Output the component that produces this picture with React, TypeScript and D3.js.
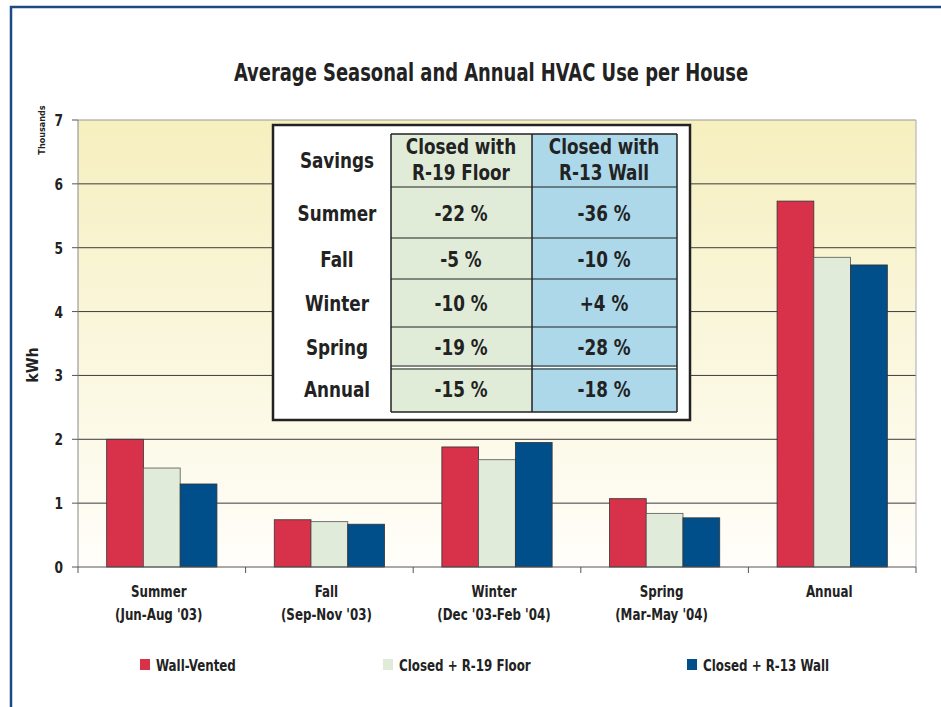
import React from "react";
import * as d3 from "d3";

const categories = ["Summer", "Fall", "Winter", "Spring", "Annual"];
const categorySub = ["(Jun-Aug '03)", "(Sep-Nov '03)", "(Dec '03-Feb '04)", "(Mar-May '04)", ""];
const seriesNames = ["Wall-Vented", "Closed + R-19 Floor", "Closed + R-13 Wall"];
const wallVented = [2.0, 0.74, 1.88, 1.07, 5.73];
const closedR19 = [1.55, 0.71, 1.68, 0.84, 4.85];
const closedR13 = [1.3, 0.67, 1.95, 0.77, 4.73];
const yTicks = [0, 1, 2, 3, 4, 5, 6, 7];

const tableRows = ["Summer", "Fall", "Winter", "Spring", "Annual"];
const savingsR19 = ["-22 %", "-5 %", "-10 %", "-19 %", "-15 %"];
const savingsR13 = ["-36 %", "-10 %", "+4 %", "-28 %", "-18 %"];

const colors = ["#d7324a", "#e0ecd9", "#004f8b"];
const FONT = "'DejaVu Sans Condensed', 'Liberation Sans Narrow', Arial, sans-serif";

const W = 941;
const H = 707;
const plot = { left: 78, right: 916, top: 120, bottom: 567 };

// condensed text: draw at origin, squeeze horizontally
const T = ({ x, y, sx = 0.85, size, anchor = "middle", children }: any) => (
  <text
    transform={`translate(${x},${y}) scale(${sx},1)`}
    textAnchor={anchor}
    fontSize={size}
    fontWeight="bold"
    fill="#222"
  >
    {children}
  </text>
);

export default function App() {
  const series = [wallVented, closedR19, closedR13];

  const x = d3.scaleBand().domain(categories).range([plot.left, plot.right]);
  const inner = d3
    .scaleBand<number>()
    .domain([0, 1, 2])
    .range([0, x.bandwidth()])
    .paddingOuter(0.78)
    .paddingInner(0);
  const y = d3.scaleLinear().domain([0, 7]).range([plot.bottom, plot.top]);

  // table geometry
  const tb = { left: 273, top: 125, right: 690, bottom: 420 };
  const colX = [391, 532, 677];
  const rowY = [134, 187, 238, 279, 327, 366, 412];

  return (
    <svg
      width={W}
      height={H}
      style={{ position: "absolute", left: 0, top: 0, fontFamily: FONT }}
    >
      <defs>
        <linearGradient id="bg" x1="0" y1="0" x2="0" y2="1">
          <stop offset="0%" stopColor="#f6efbf" />
          <stop offset="100%" stopColor="#fffefa" />
        </linearGradient>
      </defs>
      <rect x={0} y={0} width={W} height={H} fill="#fff" />
      {/* outer frame */}
      <path d={`M11,${H} V7 H${W}`} fill="none" stroke="#1d4a87" strokeWidth={2.5} />

      <T x={491} y={81} size={24} sx={0.83}>
        Average Seasonal and Annual HVAC Use per House
      </T>

      {/* plot background */}
      <rect
        x={plot.left}
        y={plot.top}
        width={plot.right - plot.left}
        height={plot.bottom - plot.top}
        fill="url(#bg)"
      />
      {yTicks.slice(1).map((t) => (
        <line
          key={t}
          x1={plot.left}
          x2={plot.right}
          y1={y(t)}
          y2={y(t)}
          stroke={t === 7 ? "#999" : "#3a3a3a"}
          strokeWidth={1}
        />
      ))}
      <line x1={plot.right} x2={plot.right} y1={plot.top} y2={plot.bottom} stroke="#aaa" />
      <line x1={plot.left} x2={plot.left} y1={plot.top} y2={plot.bottom} stroke="#888" />
      {yTicks.map((t) => (
        <g key={t}>
          <line x1={plot.left - 6} x2={plot.left} y1={y(t)} y2={y(t)} stroke="#555" />
          <T x={63} y={y(t) + 6} size={16} sx={0.85} anchor="end">
            {t}
          </T>
        </g>
      ))}
      <text
        transform="translate(38,365) rotate(-90)"
        textAnchor="middle"
        fontSize={16}
        fontWeight="bold"
        fill="#222"
      >
        kWh
      </text>
      <text
        transform="translate(45,130) rotate(-90)"
        textAnchor="middle"
        fontSize={9}
        fontWeight="bold"
        fill="#222"
      >
        Thousands
      </text>

      {/* bars */}
      {categories.map((c, i) =>
        series.map((s, j) => (
          <rect
            key={c + j}
            x={(x(c) as number) + (inner(j) as number)}
            y={y(s[i])}
            width={inner.bandwidth()}
            height={y(0) - y(s[i])}
            fill={colors[j]}
            stroke={j === 1 ? "#555" : "#333"}
            strokeWidth={0.8}
          />
        ))
      )}

      {/* x axis */}
      <line x1={plot.left} x2={plot.right} y1={plot.bottom} y2={plot.bottom} stroke="#555" />
      {[...categories.map((c) => x(c) as number), plot.right].map((v, i) => (
        <line key={i} x1={v} x2={v} y1={plot.bottom} y2={plot.bottom + 6} stroke="#555" />
      ))}
      {categories.map((c, i) => {
        const cx = (x(c) as number) + x.bandwidth() / 2 - 3;
        return (
          <g key={c}>
            <T x={cx} y={597} size={15} sx={0.88}>
              {c}
            </T>
            <T x={cx} y={620} size={15} sx={0.88}>
              {categorySub[i]}
            </T>
          </g>
        );
      })}

      {/* legend */}
      {seriesNames.map((n, j) => {
        const lx = [140, 383, 687][j];
        return (
          <g key={n}>
            <rect x={lx} y={659} width={10} height={11} fill={colors[j]} />
            <T x={lx + 16} y={671} size={15} sx={0.88} anchor="start">
              {n}
            </T>
          </g>
        );
      })}

      {/* savings table */}
      <rect
        x={tb.left}
        y={tb.top}
        width={tb.right - tb.left}
        height={tb.bottom - tb.top}
        fill="#fff"
        stroke="#222"
        strokeWidth={2.5}
      />
      <rect
        x={colX[0]}
        y={rowY[0]}
        width={colX[1] - colX[0]}
        height={rowY[6] - rowY[0]}
        fill="#e0ecd8"
      />
      <rect
        x={colX[1]}
        y={rowY[0]}
        width={colX[2] - colX[1]}
        height={rowY[6] - rowY[0]}
        fill="#acd8ea"
      />
      {rowY.map((ry, i) => (
        <line
          key={i}
          x1={colX[0]}
          x2={colX[2]}
          y1={ry}
          y2={ry}
          stroke="#222"
          strokeWidth={i === 0 || i === 6 ? 1.5 : 1}
        />
      ))}
      <line x1={colX[0]} x2={colX[2]} y1={rowY[5] + 1.5} y2={rowY[5] + 1.5} stroke="#fff" strokeWidth={1.2} />
      <line x1={colX[0]} x2={colX[2]} y1={rowY[5] + 3} y2={rowY[5] + 3} stroke="#222" />
      {colX.map((cx, i) => (
        <line key={i} x1={cx} x2={cx} y1={rowY[0]} y2={rowY[6]} stroke="#222" strokeWidth={1.5} />
      ))}
      <T x={337} y={168} size={22}>
        Savings
      </T>
      <T x={461} y={154} size={22}>
        Closed with
      </T>
      <T x={461} y={180} size={22}>
        R-19 Floor
      </T>
      <T x={604} y={154} size={22}>
        Closed with
      </T>
      <T x={604} y={180} size={22}>
        R-13 Wall
      </T>
      {tableRows.map((r, i) => {
        const cy = (rowY[i + 1] + rowY[i + 2]) / 2 + 8;
        return (
          <g key={r}>
            <T x={337} y={cy} size={22}>
              {r}
            </T>
            <T x={461} y={cy} size={22}>
              {savingsR19[i]}
            </T>
            <T x={604} y={cy} size={22}>
              {savingsR13[i]}
            </T>
          </g>
        );
      })}
    </svg>
  );
}
